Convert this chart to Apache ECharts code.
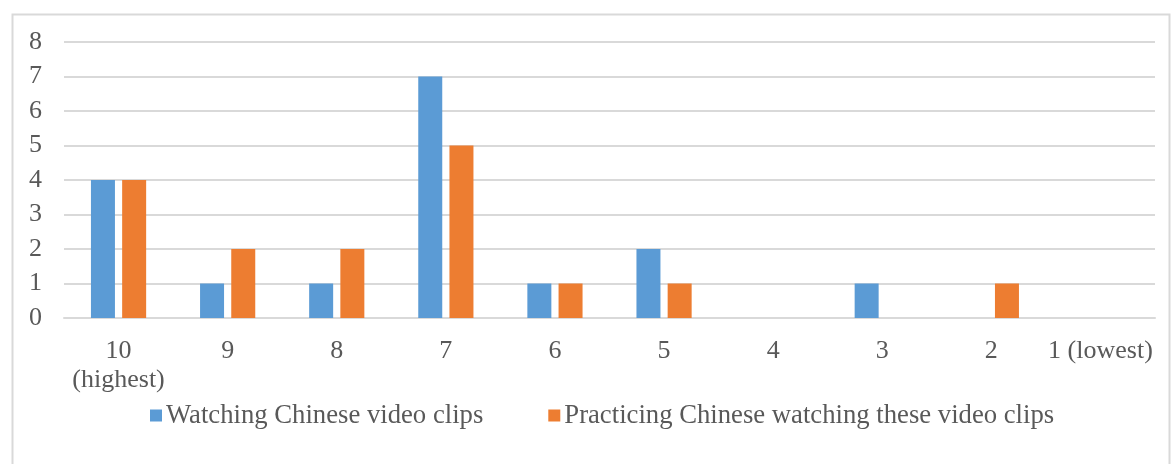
<!DOCTYPE html>
<html><head><meta charset="utf-8">
<script src="https://cdn.jsdelivr.net/npm/echarts@6/dist/echarts.min.js"></script>
<style>html,body{margin:0;padding:0;background:#fff}#c{width:1173px;height:464px}</style>
</head><body><div id="c"></div>
<script>
const categories = ['10\n(highest)', '9', '8', '7', '6', '5', '4', '3', '2', '1 (lowest)'];
const watching = [4, 1, 1, 7, 1, 2, 0, 1, 0, 0];
const practicing = [4, 2, 2, 5, 1, 1, 0, 0, 1, 0];
const seriesNames = ['Watching Chinese video clips', 'Practicing Chinese watching these video clips'];
const yTicks = {min: 0, max: 8, interval: 1};

const font = 'Liberation Serif, Times New Roman, serif';
const fs = 26;
const chart = echarts.init(document.getElementById('c'), null, {renderer: 'canvas'});
chart.setOption({
  animation: false,
  backgroundColor: '#fff',
  graphic: [{
    type: 'rect', left: 10, top: 12, silent: true,
    shape: {width: 1157, height: 470},
    style: {fill: 'none', stroke: '#d9d9d9', lineWidth: 2}
  }],
  grid: {left: 64, right: 18, top: 42, bottom: 146, containLabel: false},
  legend: {
    data: seriesNames,
    top: 397, left: 145,
    icon: 'rect', itemWidth: 12, itemHeight: 12, itemGap: 65,
    textStyle: {fontFamily: font, fontSize: 26.7, color: '#595959', padding: [0, 0, 0, -1]}
  },
  xAxis: {
    type: 'category', data: categories,
    axisLine: {show: true, lineStyle: {color: '#d9d9d9', width: 2}},
    axisTick: {show: false},
    axisLabel: {fontFamily: font, fontSize: fs, color: '#595959', margin: 19, lineHeight: 29, interval: 0}
  },
  yAxis: {
    type: 'value', min: yTicks.min, max: yTicks.max, interval: yTicks.interval,
    axisLine: {show: false}, axisTick: {show: false},
    splitLine: {lineStyle: {color: '#d9d9d9', width: 2}},
    axisLabel: {fontFamily: font, fontSize: fs, color: '#595959', margin: 22}
  },
  series: [
    {name: seriesNames[0], type: 'bar', data: watching, barWidth: 24, barGap: '30%',
     itemStyle: {color: '#5b9bd5'}},
    {name: seriesNames[1], type: 'bar', data: practicing, barWidth: 24,
     itemStyle: {color: '#ed7d31'}}
  ]
});
</script></body></html>
